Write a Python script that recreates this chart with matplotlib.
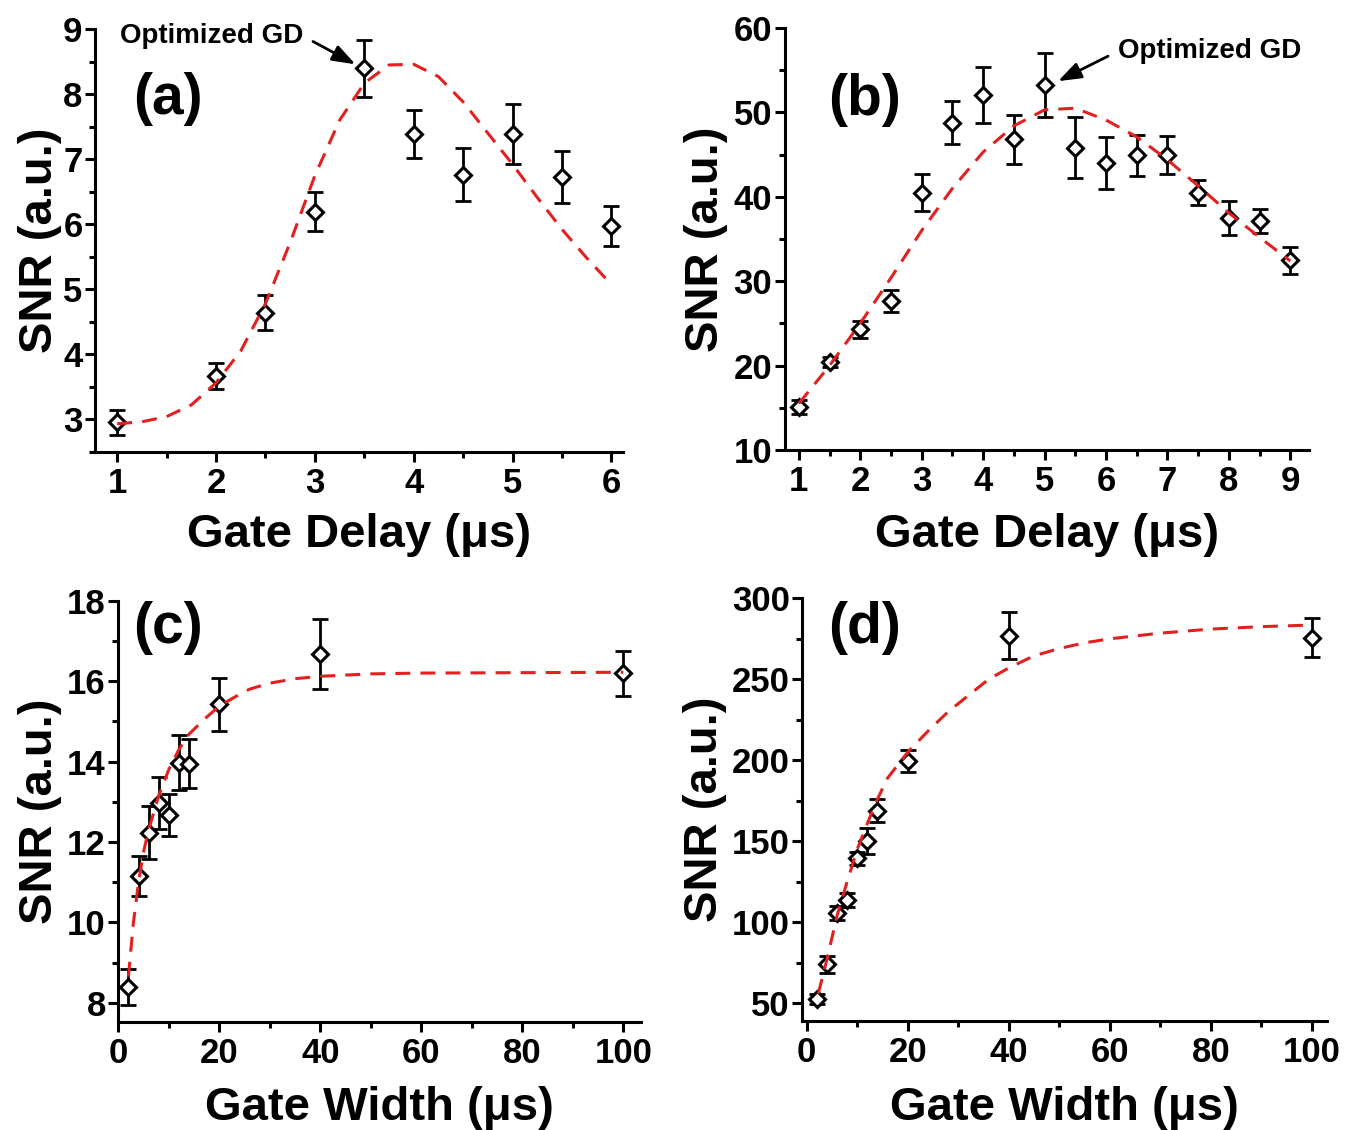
import numpy as np
import matplotlib
matplotlib.use("Agg")
import matplotlib.pyplot as plt
from matplotlib.ticker import MultipleLocator

plt.rcParams['font.family'] = ['Liberation Sans', 'DejaVu Sans']
plt.rcParams['font.weight'] = 'bold'
plt.rcParams['axes.labelweight'] = 'bold'

# (a) SNR vs gate delay
a_x = [1, 2, 2.5, 3, 3.5, 4, 4.5, 5, 5.5, 6]
a_y = [2.95, 3.66, 4.64, 6.19, 8.40, 7.39, 6.76, 7.39, 6.72, 5.97]
a_err = [0.19, 0.20, 0.27, 0.30, 0.44, 0.37, 0.41, 0.46, 0.40, 0.31]
a_fit_x = [1, 1.25, 1.5, 1.75, 2, 2.25, 2.5, 2.75, 3, 3.25, 3.5, 3.75, 4,
           4.25, 4.5, 4.75, 5, 5.25, 5.5, 5.75, 6]
a_fit_y = [2.93, 2.96, 3.04, 3.22, 3.56, 4.05, 4.78, 5.72, 6.75, 7.6, 8.17,
           8.45, 8.46, 8.27, 7.88, 7.4, 6.92, 6.41, 5.92, 5.48, 5.07]

# (b) SNR vs gate delay
b_x = [1, 1.5, 2, 2.5, 3, 3.5, 4, 4.5, 5, 5.5, 6, 6.5, 7, 7.5, 8, 8.5, 9]
b_y = [15.1, 20.4, 24.3, 27.6, 40.5, 48.8, 52.1, 46.8, 53.2, 45.8, 44.0,
       44.9, 45.0, 40.5, 37.5, 37.1, 32.5]
b_err = [0.8, 0.6, 1.0, 1.3, 2.15, 2.6, 3.3, 2.9, 3.8, 3.6, 3.1, 2.4, 2.25,
         1.5, 2.0, 1.4, 1.6]
b_fit_x = b_x
b_fit_y = [15.5, 20.0, 25.0, 30.4, 36.0, 41.0, 45.3, 48.4, 50.3, 50.5, 49.1,
           47.1, 44.4, 41.3, 38.1, 35.2, 32.4]

# (c) SNR vs gate width
c_x = [2, 4, 6, 8, 10, 12, 14, 20, 40, 100]
c_y = [8.4, 11.15, 12.23, 12.97, 12.67, 13.97, 13.95, 15.43, 16.67, 16.2]
c_err = [0.45, 0.5, 0.66, 0.65, 0.53, 0.68, 0.62, 0.66, 0.87, 0.56]
c_fit_x = [2, 3, 4, 5, 6, 8, 10, 12, 14, 17, 20, 23, 26, 30, 35, 40, 50, 60,
           80, 100]
c_fit_y = [8.65, 10.0, 11.0, 11.75, 12.3, 13.15, 13.8, 14.3, 14.68, 15.05,
           15.38, 15.6, 15.8, 15.95, 16.06, 16.12, 16.18, 16.2, 16.21, 16.22]

# (d) SNR vs gate width
d_x = [2, 4, 6, 8, 10, 12, 14, 20, 40, 100]
d_y = [52.7, 74.2, 105.7, 113.9, 139.5, 150.0, 168.9, 199.6, 277.0, 275.6]
d_err = [3, 5.3, 4.4, 4.5, 4, 8, 7, 7, 14.3, 12]
d_fit_x = [2.3, 4, 6, 8, 10, 12, 14, 16, 20, 24, 28, 32, 36, 40, 45, 50, 55,
           60, 70, 80, 90, 100]
d_fit_y = [56, 77, 104, 125, 145, 161, 176, 189, 205, 218, 230, 240, 250, 257,
           264.5, 269, 272.5, 275, 278.5, 281, 282.5, 283.5]

W, H = 1345, 1130
fig = plt.figure(figsize=(W / 100, H / 100), dpi=100)

red = '#e3201f'


def make_axes(rect_px, xlim, ylim, xmaj, xmin, ymaj, ymin):
    l, t, r, b = rect_px
    ax = fig.add_axes([l / W, 1 - b / H, (r - l) / W, (b - t) / H])
    ax.set_xlim(*xlim)
    ax.set_ylim(*ylim)
    ax.xaxis.set_major_locator(MultipleLocator(xmaj))
    ax.xaxis.set_minor_locator(MultipleLocator(xmin))
    ax.yaxis.set_major_locator(MultipleLocator(ymaj))
    ax.yaxis.set_minor_locator(MultipleLocator(ymin))
    for s in ['top', 'right']:
        ax.spines[s].set_visible(False)
    for s in ['left', 'bottom']:
        ax.spines[s].set_linewidth(2.2)
    ax.tick_params(which='major', direction='out', length=7, width=2.2,
                   labelsize=25, pad=2)
    ax.tick_params(axis='x', which='major', pad=4)
    ax.tick_params(which='minor', direction='out', length=4.5, width=2.2)
    return ax


def draw(ax, x, y, err, fx, fy):
    ax.errorbar(x, y, yerr=err, fmt='none', ecolor='black', elinewidth=2,
                capsize=6, capthick=2, zorder=2)
    ax.plot(x, y, linestyle='none', marker='D', markersize=8.5,
            markerfacecolor='white', markeredgecolor='black',
            markeredgewidth=2.2, zorder=3)
    ax.plot(fx, fy, color=red, linewidth=2.2, dashes=(4.9, 3.3), zorder=4)


def labels(ax, xlabel, xl_y, yl_x):
    ax.set_xlabel(xlabel, fontsize=34)
    ax.set_ylabel('SNR (a.u.)', fontsize=34)
    ax.xaxis.set_label_coords(0.5, xl_y)
    ax.xaxis.label.set_verticalalignment('baseline')
    ax.yaxis.set_label_coords(yl_x, 0.5)
    ax.yaxis.label.set_verticalalignment('baseline')


arrow = dict(arrowstyle='-|>,head_length=0.7,head_width=0.25',
             color='black', lw=2, shrinkA=6, shrinkB=0)

ax_a = make_axes((95, 29.2, 623.3, 451.7), (0.775, 6.12), (2.5, 9), 1, 0.5, 1, 0.5)
draw(ax_a, a_x, a_y, a_err, a_fit_x, a_fit_y)
labels(ax_a, 'Gate Delay (μs)', -0.2256, -0.0814)
ax_a.annotate('Optimized GD', xy=(3.41, 8.46), xytext=(2.878, 8.895),
              ha='right', va='center', fontsize=20, annotation_clip=False,
              arrowprops=dict(arrow, relpos=(1, 0.5)))

ax_b = make_axes((784.7, 28, 1309.3, 450), (0.77, 9.31), (10, 60), 1, 0.5, 10, 5)
draw(ax_b, b_x, b_y, b_err, b_fit_x, b_fit_y)
labels(ax_b, 'Gate Delay (μs)', -0.2305, -0.127)
ax_b.annotate('Optimized GD', xy=(5.22, 53.7), xytext=(6.2, 57.27),
              ha='left', va='center', fontsize=20, annotation_clip=False,
              arrowprops=dict(arrow, relpos=(0, 0.5)))

ax_c = make_axes((118.3, 600.7, 641, 1021.7), (0, 103.5), (7.53, 18), 20, 10, 2, 1)
draw(ax_c, c_x, c_y, c_err, c_fit_x, c_fit_y)
labels(ax_c, 'Gate Width (μs)', -0.2335, -0.127)

ax_d = make_axes((802.3, 598.3, 1327, 1021), (-0.87, 103), (39.1, 300), 20, 10, 50, 25)
draw(ax_d, d_x, d_y, d_err, d_fit_x, d_fit_y)
labels(ax_d, 'Gate Width (μs)', -0.2335, -0.1626)

for txt, (px, py) in zip(['(a)', '(b)', '(c)', '(d)'],
                         [(168, 99), (865, 100), (168, 628), (865, 628)]):
    fig.text(px / W, 1 - py / H, txt, fontsize=41, ha='center', va='center')

fig.savefig('out.png', dpi=100)
